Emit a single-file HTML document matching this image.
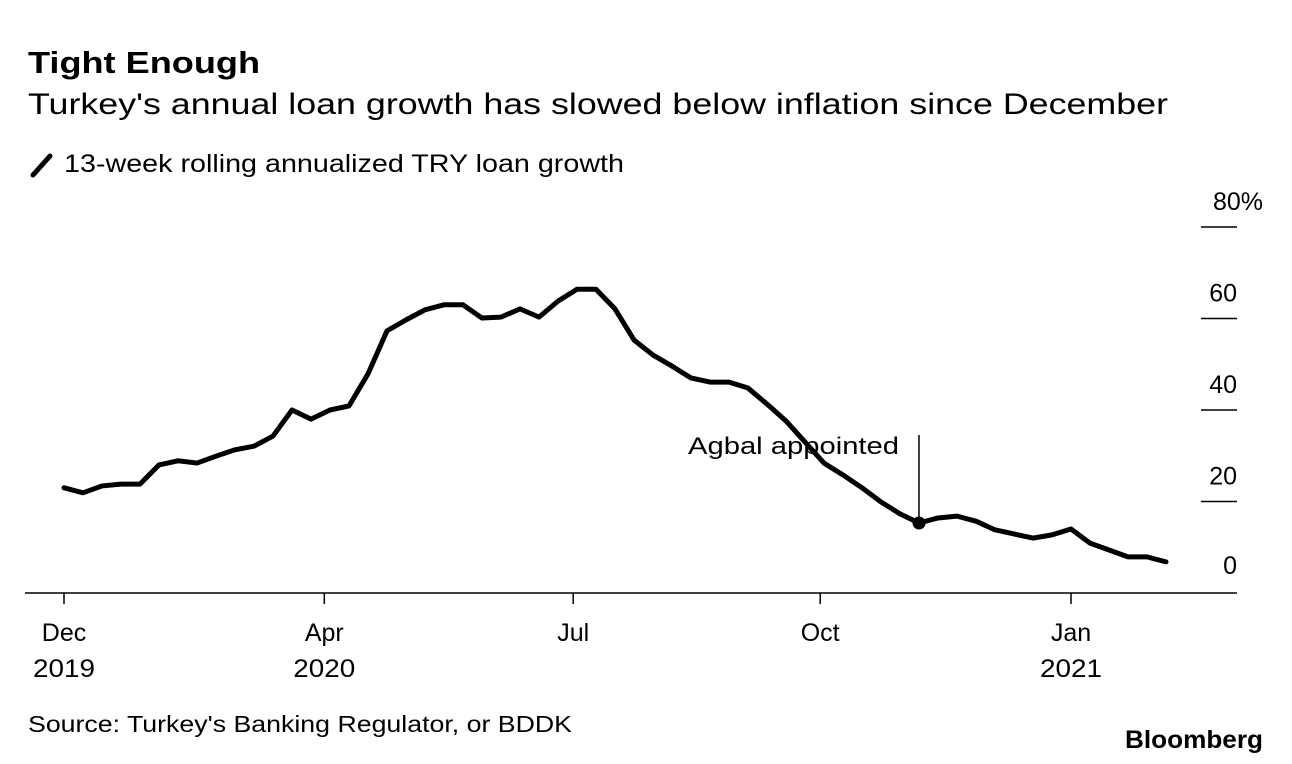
<!DOCTYPE html>
<html><head><meta charset="utf-8">
<style>
body{margin:0;background:#fff;width:1292px;height:764px;overflow:hidden;font-family:"Liberation Sans",Arial,sans-serif;color:#000}
svg{position:absolute;left:0;top:0}
</style></head>
<body>
<svg width="1292" height="764" id="chart">
<text x="28" y="73" font-size="31" font-weight="bold" textLength="232" lengthAdjust="spacingAndGlyphs">Tight Enough</text>
<text x="28" y="114" font-size="30" textLength="1140" lengthAdjust="spacingAndGlyphs">Turkey's annual loan growth has slowed below inflation since December</text>
<line x1="33" y1="175" x2="50" y2="156" stroke="#000" stroke-width="5" stroke-linecap="round"/>
<text x="64" y="172" font-size="25" textLength="560" lengthAdjust="spacingAndGlyphs">13-week rolling annualized TRY loan growth</text>
<g id="yaxis"></g>
<g id="xaxis"></g>
<g id="series"></g>
<text x="28" y="732" font-size="23" textLength="544" lengthAdjust="spacingAndGlyphs">Source: Turkey's Banking Regulator, or BDDK</text>
<text x="1125" y="748" font-size="25" font-weight="bold" textLength="138" lengthAdjust="spacingAndGlyphs">Bloomberg</text>
</svg>
<script>
const values=[23.0,21.9,23.4,23.8,23.8,28.0,28.9,28.4,29.9,31.3,32.1,34.3,40.0,38.0,40.0,40.9,47.9,57.3,59.7,61.9,63.0,63.0,60.1,60.3,62.1,60.3,63.8,66.4,66.4,62.1,55.3,52.0,49.6,47.0,46.1,46.1,44.8,41.3,37.6,33.0,28.4,25.8,23.0,19.9,17.3,15.3,16.4,16.8,15.7,13.8,12.9,12.0,12.7,14.0,10.9,9.4,7.9,7.9,6.8];
const yTicks=[0,20,40,60,80];
const xTickWeeks=[0,13.7,26.8,39.8,53];
const xTickLabels=[["Dec","2019"],["Apr","2020"],["Jul",""],["Oct",""],["Jan","2021"]];
const annotationIndex=45;
const annotationText="Agbal appointed";

const NS="http://www.w3.org/2000/svg";
const y=v=>593-v*4.575;
const x=i=>64+i*19.0;
function mk(tag,attrs,parent,text){const e=document.createElementNS(NS,tag);for(const k in attrs)e.setAttribute(k,attrs[k]);if(text!==undefined)e.textContent=text;parent.appendChild(e);return e;}
const ya=document.getElementById('yaxis'),xa=document.getElementById('xaxis'),se=document.getElementById('series');
yTicks.forEach(t=>{
  if(t>0){const l=mk('line',{x1:1201,x2:1237,y1:y(t),y2:y(t),stroke:'#000','stroke-width':1.5},ya);
  
  }
  const tx=mk('text',{x:1237,y:t===0?y(t)-19:y(t)-17,'font-size':25,'text-anchor':'end'},ya,String(t));
  if(t===80){tx.textContent='80%';tx.setAttribute('x',1263);}
  
  
});
const base=mk('line',{x1:25,x2:1237,y1:593,y2:593,stroke:'#000','stroke-width':1.5},xa);


xTickWeeks.forEach((w,k)=>{
  const tk=mk('line',{x1:x(w),x2:x(w),y1:593,y2:604,stroke:'#000','stroke-width':1.5},xa);
  
  
  const t1=mk('text',{x:x(w),y:641,'font-size':25,'text-anchor':'middle'},xa,xTickLabels[k][0]);
  
  
  if(xTickLabels[k][1]){const t2=mk('text',{x:x(w),y:677,'font-size':25,'text-anchor':'middle','textLength':62,'lengthAdjust':'spacingAndGlyphs'},xa,xTickLabels[k][1]);
  
  }
});
const p=mk('path',{d:values.map((v,i)=>(i?'L':'M')+x(i)+','+y(v)).join(''),fill:'none',stroke:'#000','stroke-width':5,'stroke-linejoin':'round','stroke-linecap':'round'},se);


const ax=x(annotationIndex),ay=y(values[annotationIndex]);
const al=mk('line',{x1:ax,x2:ax,y1:435,y2:ay,stroke:'#000','stroke-width':1.5},se);


const dot=mk('circle',{cx:ax,cy:ay,r:6.5,fill:'#000'},se);


const at=mk('text',{x:ax-231,y:454,'font-size':24,'textLength':211,'lengthAdjust':'spacingAndGlyphs'},se,annotationText);


</script>
</body></html>
